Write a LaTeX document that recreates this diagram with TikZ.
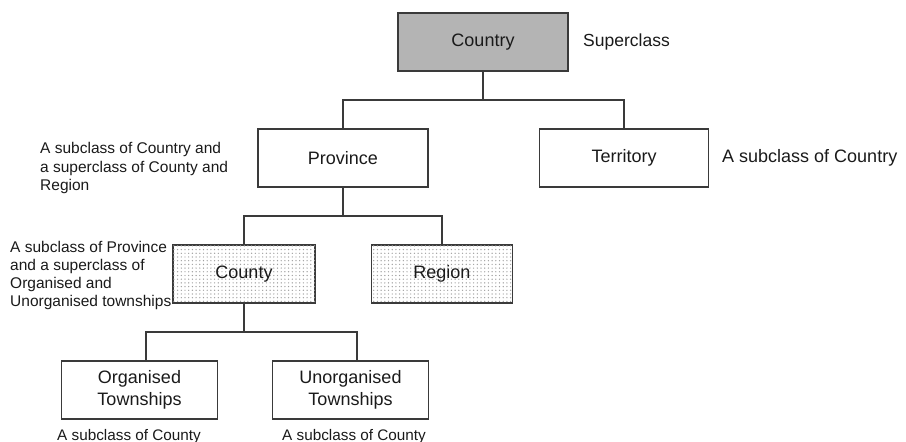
\documentclass[tikz,border=0pt]{standalone}
\usepackage{fontspec}
\setmainfont{Liberation Sans}
\usetikzlibrary{patterns.meta}

\definecolor{linegray}{HTML}{3A3A3A}
\definecolor{textgray}{HTML}{1A1A1A}
\definecolor{superfill}{HTML}{B4B4B4}

\tikzdeclarepattern{
  name=boxdots,
  type=uncolored,
  bounding box={(-1pt,-1pt) and (1pt,1pt)},
  tile size={(3.7pt,3.7pt)},
  code={\fill (0pt,0pt) circle (0.7pt);}
}

\begin{document}
\begin{tikzpicture}[x=1pt,y=-1pt,
  every node/.style={text=textgray},
  classbox/.style={draw=linegray, line width=1.4pt, rectangle, inner sep=0pt,
    minimum height=58pt, align=center,
    font=\fontsize{18}{22}\selectfont},
  superbox/.style={classbox, fill=superfill},
  dotbox/.style={classbox, fill=white, postaction={pattern=boxdots, pattern color=gray!75}},
  link/.style={draw=linegray, line width=1.4pt},
  note/.style={inner sep=0pt, align=left, font=\fontsize{15.5}{18.7}\selectfont},
  bignote/.style={inner sep=0pt, font=\fontsize{18}{22}\selectfont}
]
\useasboundingbox (0,0) rectangle (906,442);

% class hierarchy boxes
\node[superbox, minimum width=170pt] (country) at (483,42) {Country};
\node[classbox, minimum width=170pt] (province) at (343,158) {Province};
\node[classbox, minimum width=169pt] (territory) at (624,158) {Territory};
\node[dotbox, minimum width=142pt] (county) at (244,274) {County};
\node[dotbox, minimum width=141pt] (region) at (442,274) {Region};
\node[classbox, minimum width=156pt] (organised) at (139.5,390) {Organised\\Townships};
\node[classbox, minimum width=156pt] (unorganised) at (350.5,390) {Unorganised\\Townships};

% branching points of the tree
\coordinate (j1) at (483,100);
\coordinate (j2) at (343,216);
\coordinate (j3) at (244,332);

\draw[link] (country.south) -- (j1);
\draw[link] (j1) -| (province.north);
\draw[link] (j1) -| (territory.north);
\draw[link] (province.south) -- (j2);
\draw[link] (j2) -| (county.north);
\draw[link] (j2) -| (region.north);
\draw[link] (county.south) -- (j3);
\draw[link] (j3) -| ([xshift=6.5pt]organised.north);
\draw[link] (j3) -| ([xshift=6.5pt]unorganised.north);

% annotations
\node[bignote, anchor=west, font=\fontsize{17.5}{21}\selectfont] (supernote) at (583,42) {Superclass};
\node[bignote, anchor=west] (territorynote) at (722,158) {A subclass of Country};
\node[note, anchor=north west] (provincenote) at (40,142)
  {A subclass of Country and\\a superclass of County and\\Region};
\node[note, anchor=north west, font=\fontsize{15.5}{18}\selectfont] (countynote) at (10,241.5)
  {A subclass of Province\\and a superclass of\\Organised and\\Unorganised townships};
\node[note, anchor=base west, font=\fontsize{15.3}{18}\selectfont] (orgnote) at (57,440) {A subclass of County};
\node[note, anchor=base west, font=\fontsize{15.3}{18}\selectfont] (unorgnote) at (282,440) {A subclass of County};
\end{tikzpicture}
\end{document}
